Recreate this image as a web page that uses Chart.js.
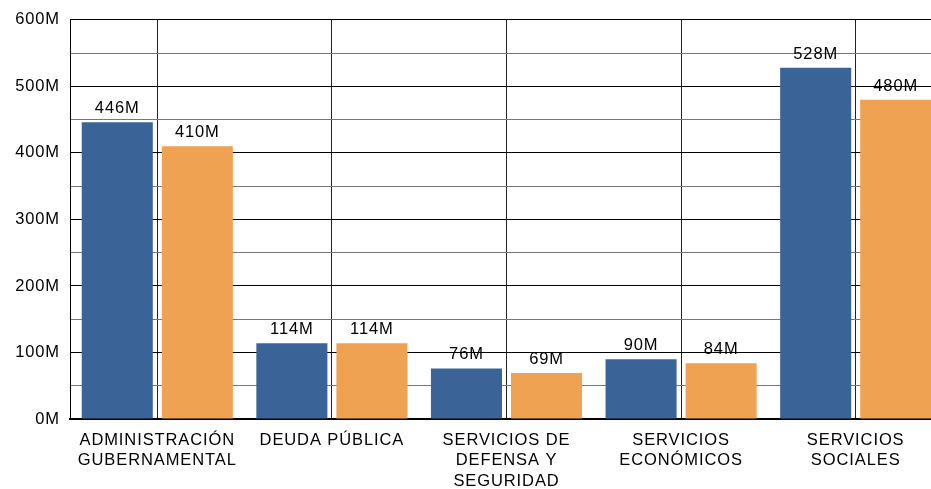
<!DOCTYPE html>
<html lang="es">
<head>
    <meta charset="UTF-8">
    <meta name="viewport" content="width=device-width, initial-scale=1.0">
    <title>Gasto por finalidad</title>
    <style>
        body {
            margin: 0;
            padding: 0;
            background-color: #ffffff;
            overflow: hidden; /* the plot runs a little past the right edge */
        }

        .wrap {
            position: absolute;
            left: 0;
            top: 0;
            width: 943px;
            height: 489px;
        }
    </style>
    <script src="https://cdn.jsdelivr.net/npm/chart.js"></script>
</head>
<body>
    <div class="wrap">
        <canvas id="gastoChart" width="943" height="489"></canvas>
    </div>

    <script>
        // categories (multi-line labels)
        const categorias = [
            ['ADMINISTRACIÓN', 'GUBERNAMENTAL'],
            ['DEUDA PÚBLICA'],
            ['SERVICIOS DE', 'DEFENSA Y', 'SEGURIDAD'],
            ['SERVICIOS', 'ECONÓMICOS'],
            ['SERVICIOS', 'SOCIALES']
        ];

        // values in millions
        const serieAzul = [446, 114, 76, 90, 528];
        const serieNaranja = [410, 114, 69, 84, 480];

        const yMin = 0;
        const yMax = 600;
        const yStep = 50;

        const fontFamily = "'Liberation Sans', Arial, sans-serif";

        // the reference text is a bit wider than plain Arial
        const spacingPlugin = {
            id: 'spacing',
            beforeDraw(chart) {
                chart.ctx.letterSpacing = '0.9px';
            }
        };

        // value labels above each bar
        const etiquetasPlugin = {
            id: 'etiquetas',
            afterDatasetsDraw(chart) {
                const ctx = chart.ctx;
                ctx.save();
                ctx.letterSpacing = '0.9px';
                ctx.font = '16.5px ' + fontFamily;
                ctx.fillStyle = '#000';
                ctx.textAlign = 'center';
                ctx.textBaseline = 'alphabetic';
                chart.data.datasets.forEach((ds, i) => {
                    const meta = chart.getDatasetMeta(i);
                    meta.data.forEach((bar, j) => {
                        ctx.fillText(ds.data[j] + 'M', bar.x, bar.y - 9);
                    });
                });
                ctx.restore();
            }
        };

        const ctx = document.getElementById('gastoChart').getContext('2d');
        const gastoChart = new Chart(ctx, {
            type: 'bar',
            data: {
                labels: categorias,
                datasets: [
                    {
                        label: 'Serie 1',
                        data: serieAzul,
                        backgroundColor: '#3a6497',
                        categoryPercentage: 0.917,
                        barPercentage: 0.8875
                    },
                    {
                        label: 'Serie 2',
                        data: serieNaranja,
                        backgroundColor: '#efa251',
                        categoryPercentage: 0.917,
                        barPercentage: 0.8875
                    }
                ]
            },
            options: {
                responsive: false,
                animation: false,
                layout: {
                    padding: { top: 19, right: 0, left: 0, bottom: 0 }
                },
                scales: {
                    x: {
                        grid: {
                            offset: false,
                            color: '#222',
                            lineWidth: 1,
                            drawTicks: false
                        },
                        border: { color: '#000', width: 2 },
                        ticks: {
                            color: '#000',
                            padding: 11,
                            maxRotation: 0,
                            autoSkip: false,
                            font: { family: fontFamily, size: 16.5, lineHeight: 1.25 }
                        },
                        afterFit: s => { s.height = 70; }
                    },
                    y: {
                        min: yMin,
                        max: yMax,
                        grid: {
                            color: c => (c.tick && c.tick.value % 100 === 0) ? '#000' : '#777',
                            lineWidth: 1,
                            drawTicks: false
                        },
                        border: { color: '#000', width: 1 },
                        ticks: {
                            stepSize: yStep,
                            color: '#000',
                            padding: 10,
                            autoSkip: false,
                            font: { family: fontFamily, size: 16.5 },
                            callback: v => v % 100 === 0 ? v + 'M' : ''
                        },
                        afterFit: s => { s.width = 70; }
                    }
                },
                plugins: {
                    legend: { display: false },
                    tooltip: { enabled: false }
                }
            },
            plugins: [spacingPlugin, etiquetasPlugin]
        });
    </script>
</body>
</html>
